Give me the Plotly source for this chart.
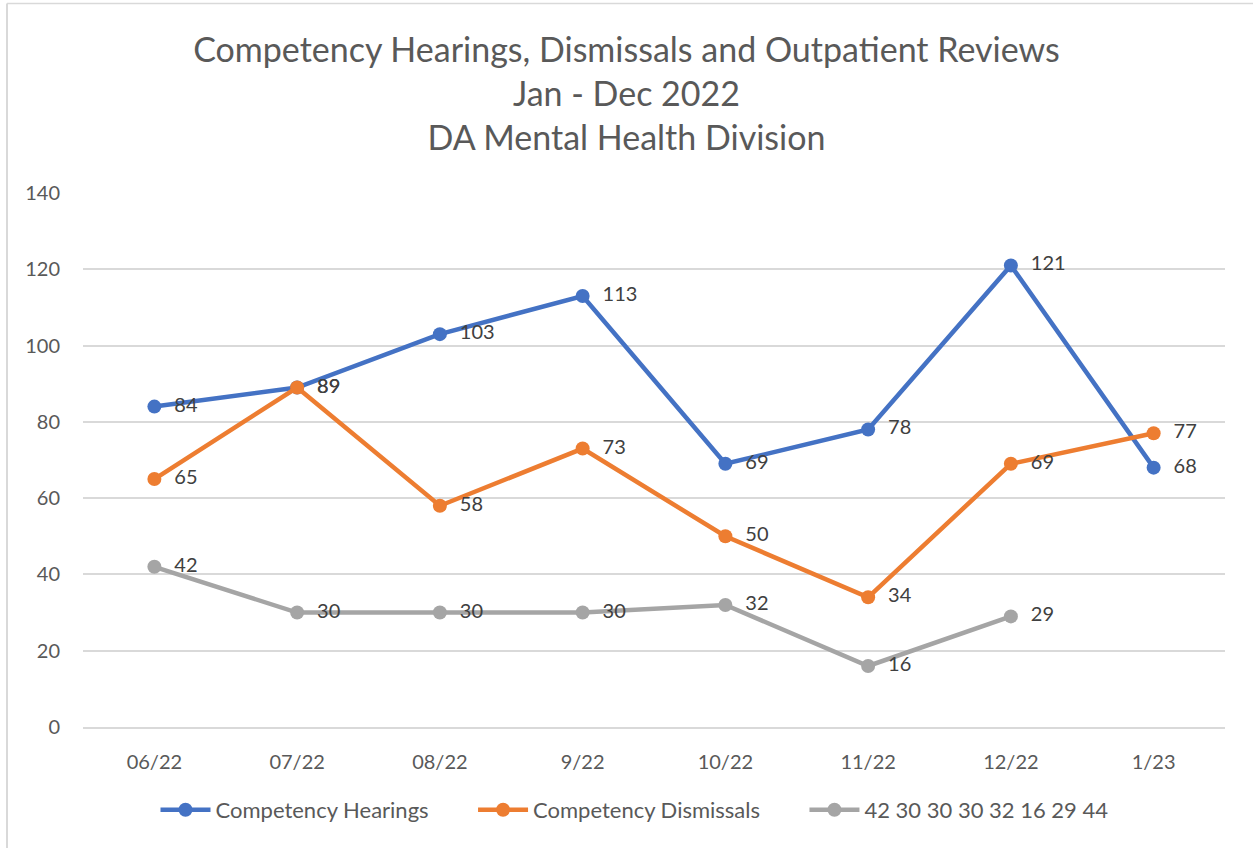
import plotly.graph_objects as go

categories = ["06/22", "07/22", "08/22", "9/22", "10/22", "11/22", "12/22", "1/23"]
hearings = [84, 89, 103, 113, 69, 78, 121, 68]
dismissals = [65, 89, 58, 73, 50, 34, 69, 77]
reviews = [42, 30, 30, 30, 32, 16, 29, None]

series_names = ["Competency Hearings", "Competency Dismissals", "42 30 30 30 32 16 29 44"]
colors = ["#4472C4", "#ED7D31", "#A5A5A5"]

W, H = 1253, 848
L, R, T, B = 83, 1225, 193, 727
FONT = "Lato"

fig = go.Figure()
for name, vals, col in zip(series_names, [hearings, dismissals, reviews], colors):
    fig.add_trace(go.Scatter(
        x=categories, y=vals, name=name + "       ", mode="lines+markers+text",
        line=dict(color=col, width=4.5),
        marker=dict(color=col, size=14),
        text=[("" if v is None else "\u00a0\u00a0" + str(v)) for v in vals],
        textposition="middle right",
        textfont=dict(family=FONT, size=20, color="#404040"),
        cliponaxis=False,
    ))

def px_x(p):
    return (p - L) / (R - L)

def px_y(p):
    return (B - p) / (B - T)

shapes = [
    dict(type="line", xref="paper", yref="paper", x0=px_x(7), x1=px_x(7), y0=px_y(3.5), y1=px_y(848),
         line=dict(color="#D9D9D9", width=2)),
    dict(type="line", xref="paper", yref="paper", x0=px_x(7), x1=px_x(1253), y0=px_y(3.5), y1=px_y(3.5),
         line=dict(color="#D9D9D9", width=1.5)),
]

fig.update_layout(
    width=W, height=H,
    margin=dict(l=L, r=W - R, t=T, b=H - B),
    paper_bgcolor="white", plot_bgcolor="white",
    font=dict(family=FONT, color="#595959"),
    title=dict(
        text="Competency Hearings, Dismissals and Outpatient Reviews<br>Jan - Dec 2022<br>DA Mental Health Division",
        x=0.5, xanchor="center", y=1 - 62 / H, yanchor="top",
        font=dict(family=FONT, size=34, color="#595959"),
    ),
    xaxis=dict(
        type="category", range=[-0.5, len(categories) - 0.5],
        showgrid=False, showline=True, linecolor="#D9D9D9", linewidth=1.5,
        tickfont=dict(family=FONT, size=20, color="#595959"), ticks="", ticklabelstandoff=16,
    ),
    yaxis=dict(
        range=[0, 140], dtick=20, showgrid=True, gridcolor="#D9D9D9", gridwidth=1.5,
        zeroline=False, showline=False,
        tickfont=dict(family=FONT, size=20, color="#595959"), ticks="", ticklabelstandoff=22,
    ),
    legend=dict(
        orientation="h", x=0.5, xanchor="center", y=px_y(810), yanchor="middle",
        font=dict(family=FONT, size=22, color="#595959"),
        itemwidth=50, tracegroupgap=0,
    ),
    shapes=shapes,
)

fig.write_html(
    "out.html",
    config={"displayModeBar": False},
    post_script="document.body.style.margin='0';document.body.style.overflow='hidden';",
)
